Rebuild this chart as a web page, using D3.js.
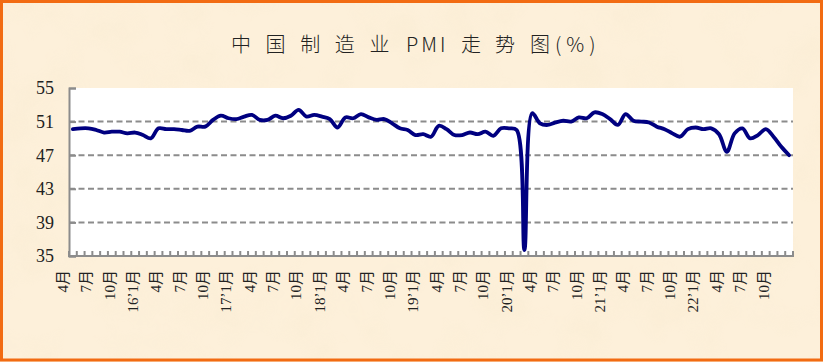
<!DOCTYPE html>
<html>
<head>
<meta charset="utf-8">
<script src="https://cdn.jsdelivr.net/npm/d3@7"></script>
<style>
  html, body { margin: 0; padding: 0; background: #fdf0da; }
  svg { display: block; }
</style>
</head>
<body>
<div id="chart"></div>
<script>
// PMI values, Apr 2015 .. Dec 2022
let pmi2015 = [50.1, 50.2, 50.2, 50.0, 49.7, 49.8, 49.8, 49.6, 49.7];
let pmi2016 = [49.4, 49.0, 50.2, 50.1, 50.1, 50.0, 49.9, 50.4, 50.4, 51.2, 51.7, 51.4];
let pmi2017 = [51.3, 51.6, 51.8, 51.2, 51.2, 51.7, 51.4, 51.7, 52.4, 51.6, 51.8, 51.6];
let pmi2018 = [51.3, 50.3, 51.5, 51.4, 51.9, 51.5, 51.2, 51.3, 50.8, 50.2, 50.0, 49.4];
let pmi2019 = [49.5, 49.2, 50.5, 50.1, 49.4, 49.4, 49.7, 49.5, 49.8, 49.3, 50.2, 50.2];
let pmi2020 = [50.0, 35.7, 52.0, 50.8, 50.6, 50.9, 51.1, 51.0, 51.5, 51.4, 52.1, 51.9];
let pmi2021 = [51.3, 50.6, 51.9, 51.1, 51.0, 50.9, 50.4, 50.1, 49.6, 49.2, 50.1, 50.3];
let pmi2022 = [50.1, 50.2, 49.5, 47.4, 49.6, 50.2, 49.0, 49.4, 50.1, 49.2, 48.0, 47.0];

let pmi = [].concat(pmi2015, pmi2016, pmi2017, pmi2018, pmi2019, pmi2020, pmi2021, pmi2022);

// one category per month
let categories = d3.timeMonth.range(new Date(2015, 3, 1), new Date(2023, 0, 1));

// labels every third month
let tickLabels = ['4月', '7月', '10月',
  '16’1月', '4月', '7月', '10月',
  '17’1月', '4月', '7月', '10月',
  '18’1月', '4月', '7月', '10月',
  '19’1月', '4月', '7月', '10月',
  '20’1月', '4月', '7月', '10月',
  '21’1月', '4月', '7月', '10月',
  '22’1月', '4月', '7月', '10月'];

let yTicks = [35, 39, 43, 47, 51, 55];
let gridValues = [39, 43, 47, 51];

let W = 823, H = 362;
let plot = { left: 69, right: 793, top: 88, bottom: 256 };

let svg = d3.select('#chart').
append('svg').
attr('width', W).
attr('height', H);

// paper background
let defs = svg.append('defs');
let paper = defs.append('filter').
attr('id', 'paper').
attr('x', 0).attr('y', 0).attr('width', '100%').attr('height', '100%');
paper.append('feTurbulence').
attr('type', 'fractalNoise').
attr('baseFrequency', '0.018').
attr('numOctaves', 3).
attr('seed', 7);
paper.append('feColorMatrix').
attr('type', 'matrix').
attr('values', '0 0 0 0 0.93  0 0 0 0 0.82  0 0 0 0 0.62  1.6 0 0 0 -0.72');

svg.append('rect').
attr('width', W).attr('height', H).
attr('fill', '#fdf0da');

svg.append('rect').
attr('width', W).attr('height', H).
attr('filter', 'url(#paper)').
attr('opacity', 0.5);

// orange frame
svg.append('rect').
attr('x', 1.5).attr('y', 1.5).
attr('width', W - 3).attr('height', H - 3.5).
attr('fill', 'none').
attr('stroke', '#f26b12').
attr('stroke-width', 3);

// title, spaced out like the original
let title = svg.append('text').
attr('y', 52).
style('font-family', '"Noto Sans CJK SC", sans-serif').
style('font-weight', 300).
style('font-size', '20px').
attr('fill', '#222');
title.append('tspan').attr('x', 231).style('letter-spacing', '14.6px').text('中国制造业');
title.append('tspan').attr('x', 406).style('letter-spacing', '3px').text('PMI');
title.append('tspan').attr('x', 461).style('letter-spacing', '14px').text('走势');
title.append('tspan').attr('x', 530).style('letter-spacing', '0px').text('图');
title.append('tspan').attr('x', 555).style('letter-spacing', '5px').text('(%)');

// scales
let x = d3.scaleBand().
domain(d3.range(categories.length)).
range([plot.left, plot.right]);

let y = d3.scaleLinear().
domain([35, 55]).
range([plot.bottom, plot.top]);

let cx = i => x(i) + x.bandwidth() / 2;

// plot area
svg.append('rect').
attr('x', plot.left).
attr('y', plot.top).
attr('width', plot.right - plot.left).
attr('height', plot.bottom - plot.top).
attr('fill', '#fff');

// gridlines
svg.selectAll('.grid').
data(gridValues).
enter().
append('line').
attr('class', 'grid').
attr('x1', plot.left).
attr('x2', plot.right).
attr('y1', d => y(d)).
attr('y2', d => y(d)).
attr('stroke', '#8c8c8c').
attr('stroke-width', 2).
attr('stroke-dasharray', '6,3.5');

// y axis
let yAxis = svg.append('g').
attr('transform', 'translate(' + plot.left + ',0)').
call(d3.axisRight(y).tickValues(yTicks).tickSize(7).tickFormat(''));
yAxis.selectAll('path, line').attr('stroke', '#8c8c8c').attr('stroke-width', 2);

svg.selectAll('.ylab').
data(yTicks).
enter().
append('text').
attr('class', 'ylab').
attr('x', 54).
attr('y', d => y(d)).
attr('dy', '0.36em').
attr('text-anchor', 'end').
style('font-family', '"Liberation Serif", serif').
style('font-size', '18px').
attr('fill', '#222').
text(d => d);

// x axis with a tick at each category border
let borders = d3.range(categories.length + 1).map(i => plot.left + i * x.step());

svg.selectAll('.xtick').
data(borders).
enter().
append('line').
attr('class', 'xtick').
attr('x1', d => d).
attr('x2', d => d).
attr('y1', plot.bottom).
attr('y2', plot.bottom - 5).
attr('stroke', '#8c8c8c').
attr('stroke-width', 2);

svg.append('line').
attr('x1', plot.left - 1).
attr('x2', plot.right + 1).
attr('y1', plot.bottom).
attr('y2', plot.bottom).
attr('stroke', '#8c8c8c').
attr('stroke-width', 2);

svg.selectAll('.xlab').
data(tickLabels).
enter().
append('text').
attr('class', 'xlab').
attr('transform', (d, i) => 'translate(' + (cx(i * 3) - 5) + ',270) rotate(-90)').
attr('text-anchor', 'end').
style('font-family', '"Liberation Serif", "Noto Sans CJK SC", serif').
style('font-size', '15px').
attr('fill', '#222').
text(d => d);

// PMI line
let line = d3.line().
x((d, i) => cx(i)).
y(d => y(d)).
curve(d3.curveCatmullRom.alpha(0.5));

svg.append('path').
datum(pmi).
attr('d', line).
attr('fill', 'none').
attr('stroke', '#000080').
attr('stroke-width', 3.8).
attr('stroke-linejoin', 'round').
attr('stroke-linecap', 'round');
</script>
</body>
</html>
